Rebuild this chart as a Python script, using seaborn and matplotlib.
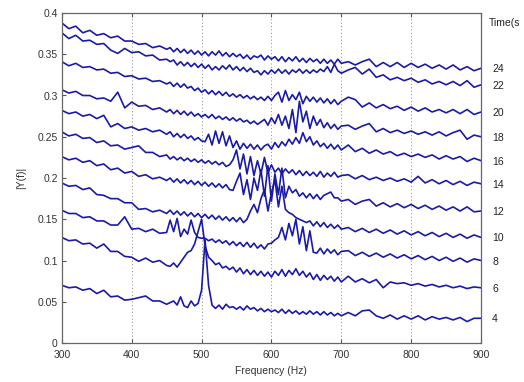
import numpy as np
import pandas as pd
import seaborn as sns
import matplotlib
matplotlib.use("Agg")
import matplotlib.pyplot as plt
from matplotlib.ticker import FormatStrFormatter

# frequency grid (Hz): coarse at the ends, finer in the middle where the peaks are
freq = np.concatenate([np.arange(300, 451, 10), np.arange(455, 701, 5), np.arange(710, 901, 10)])

times = [24, 22, 20, 18, 16, 14, 12, 10, 8, 6, 4]

t24 = ([.388, .381, .384, .376, .379, .373, .375, .370, .372, .366, .366, .362, .363, .358, .360, .356]
       + [.358, .353, .357, .352, .356, .351, .355, .350, .354, .349, .353, .348, .353, .349, .354, .348, .352, .347, .351, .347,
          .350, .345, .349, .344, .348, .346, .349, .343, .348, .344, .347, .342, .347, .341, .346, .342, .347, .341, .345, .340,
          .345, .341, .344, .339, .344, .339, .343, .338, .344, .339]
       + [.341, .337, .341, .344, .335, .340, .335, .340, .334, .339, .334, .338, .333, .337, .332, .337, .331, .335, .330, .333])

t22 = ([.376, .369, .373, .366, .367, .362, .363, .355, .351, .357, .352, .353, .348, .349, .343, .344]
       + [.341, .343, .337, .341, .336, .340, .335, .339, .334, .338, .333, .337, .331, .335, .331, .336, .332, .337, .331, .335,
          .330, .334, .329, .333, .328, .330, .325, .330, .326, .331, .327, .332, .327, .331, .326, .331, .328, .332, .327, .331,
          .327, .331, .328, .332, .329, .335, .328, .338, .330, .327]
       + [.331, .334, .326, .332, .322, .325, .319, .322, .318, .321, .316, .319, .314, .317, .313, .317, .312, .318, .310, .313])

t20 = ([.341, .336, .339, .334, .335, .331, .332, .327, .328, .323, .324, .320, .321, .317, .318, .314]
       + [.316, .311, .315, .310, .314, .309, .311, .306, .309, .304, .307, .302, .306, .301, .305, .300, .304, .299, .302, .298,
          .301, .297, .300, .296, .299, .295, .298, .294, .299, .294, .300, .304, .292, .306, .294, .301, .295, .304, .290, .299,
          .293, .298, .292, .297, .291, .296, .290, .295, .289, .293]
       + [.298, .295, .286, .291, .285, .289, .284, .287, .282, .286, .281, .285, .280, .283, .279, .283, .278, .283, .277, .280])

t18 = ([.307, .303, .305, .300, .300, .296, .297, .293, .304, .285, .292, .287, .288, .283, .285, .280]
       + [.283, .278, .282, .277, .281, .276, .280, .275, .278, .274, .277, .273, .277, .272, .275, .271, .274, .270, .273, .269,
          .272, .268, .270, .266, .269, .265, .268, .271, .264, .273, .266, .277, .264, .275, .260, .283, .255, .293, .268, .281,
          .260, .275, .264, .271, .261, .267, .260, .265, .259, .263]
       + [.264, .259, .263, .266, .256, .260, .255, .258, .254, .257, .253, .256, .252, .256, .251, .255, .258, .247, .252, .250])

t16 = ([.282, .278, .280, .275, .277, .272, .276, .262, .266, .260, .262, .258, .260, .256, .258, .253]
       + [.256, .250, .254, .249, .253, .248, .251, .246, .249, .245, .244, .253, .240, .257, .242, .256, .239, .251, .237, .245,
          .235, .242, .236, .241, .235, .240, .234, .239, .241, .235, .243, .237, .244, .239, .247, .241, .249, .242, .255, .244,
          .250, .240, .245, .238, .242, .236, .241, .235, .240, .234]
       + [.240, .232, .236, .230, .234, .229, .232, .227, .230, .226, .229, .225, .228, .223, .227, .223, .226, .220, .224, .221])

t14 = ([.256, .251, .253, .248, .249, .243, .245, .239, .240, .235, .237, .239, .231, .231, .226, .228]
       + [.223, .226, .222, .225, .221, .224, .220, .223, .219, .222, .218, .221, .217, .220, .216, .219, .214, .216, .222, .234,
          .211, .229, .205, .226, .203, .221, .205, .225, .206, .216, .207, .212, .205, .211, .206, .210, .204, .209, .203, .208,
          .203, .207, .202, .208, .201, .206, .202, .207, .201, .203]
       + [.204, .199, .203, .198, .201, .197, .200, .196, .199, .195, .202, .194, .198, .193, .197, .192, .196, .191, .195, .193])

t12 = ([.226, .222, .224, .219, .221, .215, .217, .210, .212, .206, .208, .202, .204, .199, .201, .197]
       + [.200, .195, .199, .194, .198, .193, .197, .192, .196, .191, .195, .190, .194, .189, .193, .188, .192, .186, .185, .196,
          .206, .180, .198, .174, .200, .185, .210, .178, .215, .172, .205, .180, .212, .176, .190, .182, .186, .178, .182, .176,
          .181, .175, .180, .174, .179, .181, .183, .176, .176, .172]
       + [.174, .168, .172, .174, .166, .170, .165, .169, .164, .168, .163, .167, .162, .166, .161, .165, .160, .165, .159, .160])

t10 = ([.194, .190, .191, .186, .188, .180, .179, .175, .175, .170, .170, .162, .163, .159, .161, .157]
       + [.161, .156, .160, .155, .159, .154, .158, .153, .157, .152, .156, .151, .155, .150, .154, .149, .153, .148, .152, .147,
          .152, .146, .150, .160, .168, .158, .175, .186, .160, .182, .198, .165, .190, .162, .158, .156, .152, .150, .148, .146,
          .148, .142, .147, .141, .146, .140, .144, .139, .143, .138]
       + [.140, .135, .139, .134, .138, .133, .137, .132, .136, .131, .135, .130, .134, .129, .133, .128, .132, .127, .131, .128])

t8 = ([.161, .157, .157, .152, .153, .148, .148, .143, .143, .153, .138, .139, .135, .138, .133, .134]
      + [.149, .135, .151, .129, .138, .132, .149, .134, .128, .127, .127, .124, .126, .122, .125, .121, .124, .119, .123, .118,
         .122, .117, .122, .116, .121, .115, .119, .114, .120, .121, .125, .128, .140, .125, .145, .130, .150, .120, .141, .112,
         .136, .110, .109, .115, .108, .114, .109, .113, .107, .111]
      + [.112, .106, .110, .105, .109, .104, .108, .103, .107, .102, .106, .101, .105, .100, .104, .099, .103, .098, .102, .100])

t6 = ([.128, .124, .125, .120, .121, .115, .120, .111, .111, .105, .104, .099, .103, .098, .100, .094]
      + [.093, .097, .092, .098, .104, .110, .112, .120, .135, .150, .118, .104, .100, .095, .097, .091, .093, .089, .092, .086,
         .091, .084, .089, .083, .088, .082, .087, .081, .086, .080, .087, .082, .089, .081, .088, .083, .090, .082, .087, .080,
         .085, .077, .083, .076, .082, .077, .081, .075, .080, .074]
      + [.081, .074, .078, .073, .077, .067, .074, .072, .073, .070, .072, .069, .071, .068, .070, .067, .069, .066, .068, .067])

t4 = ([.070, .067, .068, .064, .066, .060, .064, .056, .057, .052, .053, .055, .057, .051, .051, .047]
      + [.049, .051, .046, .056, .045, .043, .051, .045, .048, .064, .125, .070, .046, .042, .046, .041, .047, .043, .044, .041,
         .044, .040, .045, .041, .043, .039, .042, .038, .041, .038, .040, .037, .041, .036, .040, .036, .039, .035, .038, .035,
         .039, .035, .038, .034, .038, .034, .037, .033, .036, .033]
      + [.037, .033, .039, .040, .033, .030, .034, .029, .033, .029, .033, .028, .032, .029, .031, .028, .031, .026, .030, .030])

series = [t24, t22, t20, t18, t16, t14, t12, t10, t8, t6, t4]

rows = []
for t, vals in zip(times, series):
    assert len(vals) == len(freq)
    for f, v in zip(freq, vals):
        rows.append((f, v, t))
df = pd.DataFrame(rows, columns=["freq", "mag", "time"])

sns.set_style("ticks")
plt.rcParams["font.family"] = ["Liberation Sans", "DejaVu Sans"]

line_color = "#1a1aa8"
fig = plt.figure(figsize=(5.24, 3.82), dpi=100)
ax = fig.add_axes([0.118, 0.102, 0.800, 0.864])

sns.lineplot(data=df, x="freq", y="mag", hue="time", palette=[line_color] * len(times),
             estimator=None, legend=False, linewidth=1.2, ax=ax)

ax.set_xlim(300, 900)
ax.set_ylim(0, 0.4)
ax.set_xticks(np.arange(300, 901, 100))
ax.set_yticks(np.arange(0, 0.401, 0.05))
ax.yaxis.set_major_formatter(FormatStrFormatter("%g"))
ax.grid(axis="x", linestyle=(0, (1, 2.5)), color="#888888", linewidth=0.7)
ax.tick_params(direction="in", length=3, labelsize=7.5, colors="#555555", labelcolor="#333333",
               top=True, right=True, pad=3)
ax.tick_params(axis="x", pad=5)
for s in ax.spines.values():
    s.set_color("#666666")
    s.set_linewidth(0.9)
ax.set_xlabel("Frequency (Hz)", fontsize=7.5, color="#333333", labelpad=4)
ax.set_ylabel("|Y(f)|", fontsize=7.5, color="#333333", labelpad=8)

# time labels at the right end of each trace
ax2 = ax.twinx()
ax2.set_ylim(ax.get_ylim())
ax2.set_yticks([vals[-1] for vals in series])
ax2.set_yticklabels([str(t) for t in times])
ax2.tick_params(length=0, pad=8, labelsize=7.5, labelcolor="#222222")
for s in ax2.spines.values():
    s.set_visible(False)

fig.text(489 / 524, 1 - 23 / 382, "Time(s", fontsize=7.5, color="#222222", va="center", ha="left")

fig.savefig("out.png", dpi=100)
